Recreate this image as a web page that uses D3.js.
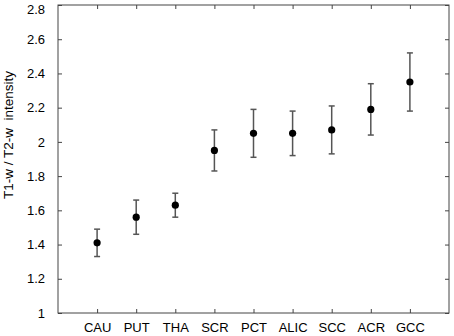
<!DOCTYPE html>
<html>
<head>
<meta charset="utf-8">
<script src="https://cdn.jsdelivr.net/npm/d3@7"></script>
<style>
  body { margin: 0; background: #fff; }
  text { font-family: "Liberation Sans", Arial, sans-serif; }
</style>
</head>
<body>
<div id="app"></div>
<script>
// data
var regions = ["CAU", "PUT", "THA", "SCR", "PCT", "ALIC", "SCC", "ACR", "GCC"];
var means = [1.41, 1.56, 1.63, 1.95, 2.05, 2.05, 2.07, 2.19, 2.35];
var lower = [1.33, 1.46, 1.56, 1.83, 1.91, 1.92, 1.93, 2.04, 2.18];
var upper = [1.49, 1.66, 1.70, 2.07, 2.19, 2.18, 2.21, 2.34, 2.52];
var yTicks = [1, 1.2, 1.4, 1.6, 1.8, 2, 2.2, 2.4, 2.6, 2.8];

var width = 454, height = 336;
var margin = {top: 5, right: 5, bottom: 23, left: 58};
var w = width - margin.left - margin.right;
var h = height - margin.top - margin.bottom;

var svg = d3.select("#app")
  .append("svg")
    .attr("width", width)
    .attr("height", height)
  .append("g")
    .attr("transform", "translate(" + margin.left + "," + margin.top + ")");

// scales
var x = d3.scaleLinear()
  .domain([0, regions.length + 1])
  .range([0, w]);

var y = d3.scaleLinear()
  .domain([1, 2.8])
  .range([h, 0]);

var idx = regions.map(function(d, i) { return i + 1; });

// axes (ticks point inward on all 4 sides)
var axisColor = "#444";

var axBottom = svg.append("g")
  .attr("transform", "translate(0," + h + ")")
  .call(d3.axisBottom(x).tickValues(idx).tickSize(-4).tickPadding(10)
    .tickFormat(function(d) { return regions[d - 1]; }));

var axTop = svg.append("g")
  .call(d3.axisTop(x).tickValues(idx).tickSize(-4).tickFormat(""));

var axLeft = svg.append("g")
  .call(d3.axisLeft(y).tickValues(yTicks).tickSize(-4).tickPadding(13)
    .tickFormat(function(d) { return d3.format("~g")(d); }));

var axRight = svg.append("g")
  .attr("transform", "translate(" + w + ",0)")
  .call(d3.axisRight(y).tickValues(yTicks).tickSize(-4).tickFormat(""));

[axBottom, axTop, axLeft, axRight].forEach(function(a) {
  a.select(".domain").remove();
  a.selectAll("line").attr("stroke", axisColor);
  a.selectAll("text")
    .attr("fill", "#000")
    .style("font-size", "13px");
});

// keep the top label inside the picture
axLeft.selectAll(".tick text")
  .filter(function(d) { return d === 2.8; })
  .attr("dy", "0.62em");

// frame
svg.append("rect")
  .attr("x", 0)
  .attr("y", 0)
  .attr("width", w)
  .attr("height", h)
  .attr("fill", "none")
  .attr("stroke", axisColor)
  .attr("stroke-width", 1);

// y label
svg.append("text")
  .attr("transform", "rotate(-90)")
  .attr("x", -(135 - margin.top))
  .attr("y", 13 - margin.left)
  .attr("text-anchor", "middle")
  .style("font-size", "13.5px")
  .attr("fill", "#000")
  .attr("xml:space", "preserve")
  .text("T1-w / T2-w  intensity");

// error bars
var barColor = "#555";
var capW = 3;
var bars = svg.selectAll(".err")
  .data(idx)
  .join("g")
  .attr("class", "err")
  .attr("stroke", barColor)
  .attr("stroke-width", 1.5);

bars.append("line")
  .attr("x1", function(d) { return x(d); })
  .attr("x2", function(d) { return x(d); })
  .attr("y1", function(d) { return y(lower[d - 1]); })
  .attr("y2", function(d) { return y(upper[d - 1]); });

bars.append("line")
  .attr("x1", function(d) { return x(d) - capW; })
  .attr("x2", function(d) { return x(d) + capW; })
  .attr("y1", function(d) { return y(upper[d - 1]); })
  .attr("y2", function(d) { return y(upper[d - 1]); });

bars.append("line")
  .attr("x1", function(d) { return x(d) - capW; })
  .attr("x2", function(d) { return x(d) + capW; })
  .attr("y1", function(d) { return y(lower[d - 1]); })
  .attr("y2", function(d) { return y(lower[d - 1]); });

// points
svg.selectAll(".pt")
  .data(idx)
  .join("circle")
  .attr("class", "pt")
  .attr("cx", function(d) { return x(d); })
  .attr("cy", function(d) { return y(means[d - 1]); })
  .attr("r", 3.6)
  .attr("fill", "#000");
</script>
</body>
</html>
